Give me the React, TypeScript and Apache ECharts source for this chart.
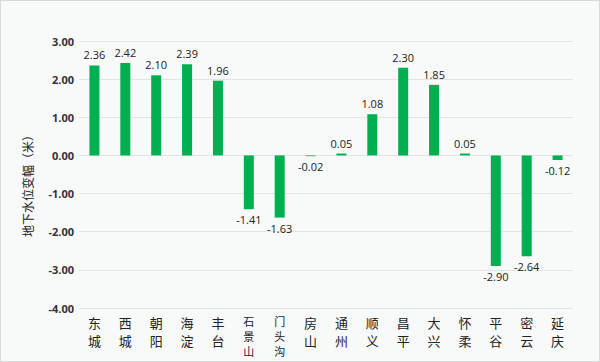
import React, { useEffect, useRef } from "react";
import * as echarts from "echarts";

const categories = ["东城", "西城", "朝阳", "海淀", "丰台", "石景山", "门头沟", "房山", "通州", "顺义", "昌平", "大兴", "怀柔", "平谷", "密云", "延庆"];
const values = [2.36, 2.42, 2.10, 2.39, 1.96, -1.41, -1.63, -0.02, 0.05, 1.08, 2.30, 1.85, 0.05, -2.90, -2.64, -0.12];
const axisName = "地下水位变幅（米）";

export default function App() {
  const ref = useRef<HTMLDivElement>(null);
  useEffect(() => {
    document.body.style.margin = "0";
    const chart = echarts.init(ref.current!, null, { renderer: "svg" });
    chart.setOption({
      animation: false,
      backgroundColor: "#f8f9f9",
      grid: { left: 78, right: 26, top: 40, bottom: 53, outerBoundsMode: "none", containLabel: false },
      graphic: [
        {
          type: "text",
          x: 26,
          y: 182,
          rotation: Math.PI / 2,
          style: {
            text: axisName,
            font: "12px 'Noto Sans CJK SC'",
            fill: "#222",
            align: "center",
            verticalAlign: "middle",
          },
        },
      ],
      xAxis: {
        type: "category",
        data: categories.map((c) =>
          c.length > 2
            ? { value: c, textStyle: { lineHeight: 15, fontSize: 11 } }
            : { value: c }
        ),
        position: "bottom",
        axisLine: { show: false },
        axisTick: { show: false },
        axisLabel: {
          interval: 0,
          margin: 5,
          fontSize: 13,
          lineHeight: 18,
          color: "#222",
          fontFamily: "'Noto Sans CJK SC'",
          formatter: (v: string) => v.split("").join("\n"),
        },
      },
      yAxis: {
        type: "value",
        min: -4,
        max: 3,
        interval: 1,
        axisLine: { show: false },
        axisTick: { show: false },
        splitLine: { lineStyle: { color: "#e3e3e3", width: 1 } },
        axisLabel: {
          margin: 5,
          fontSize: 11,
          fontWeight: "bold",
          color: "#333",
          fontFamily: "'Open Sans', sans-serif",
          formatter: (v: number) => v.toFixed(2),
        },
      },
      series: [
        {
          type: "bar",
          data: values.map((v) => ({
            value: v,
            label: { position: v >= 0 ? "top" : "bottom" },
          })),
          barWidth: 10,
          itemStyle: { color: "#00b050" },
          label: {
            show: true,
            distance: 5,
            fontSize: 11,
            color: "#222",
            fontFamily: "'Open Sans', sans-serif",
            formatter: (p: any) => Number(p.value).toFixed(2),
          },
        },
      ],
    });
    return () => chart.dispose();
  }, []);
  return (
    <div style={{ width: 600, height: 362, boxSizing: "border-box", border: "1px solid #d9d9d9", background: "#f8f9f9" }}>
      <div ref={ref} style={{ width: 598, height: 360 }} />
    </div>
  );
}
